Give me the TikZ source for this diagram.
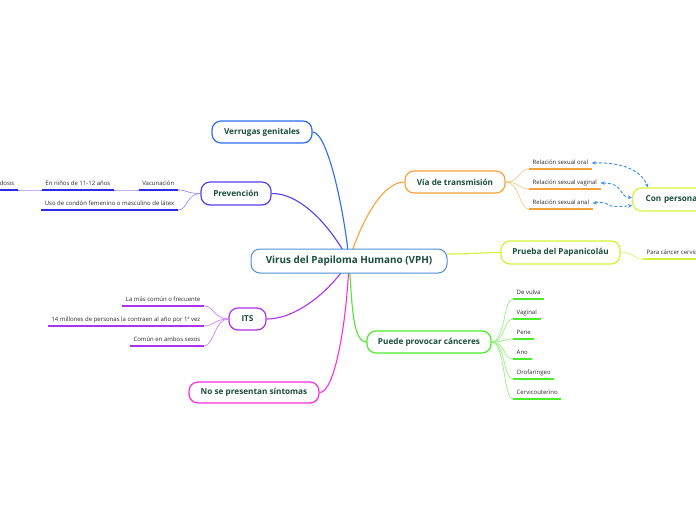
\documentclass[tikz,border=0pt]{standalone}
\usepackage{fontspec}
\setmainfont{Open Sans}
\usetikzlibrary{arrows.meta}
\definecolor{txtg}{HTML}{1B4D3E}
\definecolor{leafg}{HTML}{2B2B2B}
\definecolor{cenC}{HTML}{4D8FD1}
\definecolor{verC}{HTML}{2D6CF5}
\definecolor{prevC}{HTML}{5A3FF0}
\definecolor{prevL}{HTML}{2B2BE8}
\definecolor{viaC}{HTML}{F9A23A}
\definecolor{pruC}{HTML}{D4F23A}
\definecolor{itsC}{HTML}{B030F0}
\definecolor{pueC}{HTML}{4CED2A}
\definecolor{noseC}{HTML}{FF2EE0}
\definecolor{dashblue}{HTML}{3A8EE6}
\pgfdeclarelayer{bg}
\pgfsetlayers{bg,main}
\tikzset{
 mainbox/.style={draw, line width=1.2pt, rounded corners=9pt, fill=white, text=txtg,
   font=\bfseries\fontsize{8.2}{10}\selectfont, minimum height=22pt, inner sep=0pt},
 leaftxt/.style={font=\fontsize{6}{7}\selectfont, text=leafg, inner xsep=3.5pt, inner ysep=3pt, text height=4.4pt, text depth=1.2pt},
 leafL/.style={leaftxt, anchor=south east},
 leafR/.style={leaftxt, anchor=south west},
 uline/.style={line width=1.5pt},
 branch/.style={line width=1.1pt},
 subline/.style={line width=0.7pt},
 dasharrow/.style={draw=dashblue, line width=0.9pt, dash pattern=on 3pt off 2pt,
   {Stealth[length=4pt,width=3.6pt]}-{Stealth[length=4pt,width=3.6pt]}}
}
\begin{document}
\begin{tikzpicture}[x=1pt,y=-1pt]
\useasboundingbox (0,0) rectangle (696,520);
\clip (0,0) rectangle (696,520);

% main nodes
\node[mainbox, draw=cenC, line width=1pt, minimum width=196pt, minimum height=24pt, font=\bfseries\fontsize{9.9}{11}\selectfont] (cen) at (349,261) {Virus del Papiloma Humano (VPH)};
\node[mainbox, draw=verC, minimum width=100pt] (ver) at (262,132) {Verrugas genitales};
\node[mainbox, draw=prevC, minimum width=70pt, minimum height=23pt] (prev) at (236,193.5) {Prevención};
\node[mainbox, draw=viaC, minimum width=100pt] (via) at (455,182) {Vía de transmisión};
\node[mainbox, draw=pruC, minimum width=119pt, minimum height=23pt] (pru) at (560.5,252.5) {Prueba del Papanicoláu};
\node[mainbox, draw=itsC, minimum width=37pt] (its) at (247.5,319) {ITS};
\node[mainbox, draw=pueC, minimum width=124pt] (pue) at (429,342) {Puede provocar cánceres};
\node[mainbox, draw=noseC, minimum width=130pt, minimum height=21pt] (nose) at (254,392.5) {No se presentan síntomas};
\node[mainbox, draw=pruC, anchor=west, text width=70pt, align=left, inner xsep=13pt, minimum height=23pt] (con) at (632,199.5) {Con persona};

% leaves: Prevención
\node[leafL] (vac) at (178,190) {Vacunación};
\node[leafL] (nin) at (114,190) {En niños de 11-12 años};
\node[leafL] (dos) at (18,190) {dosis};
\node[leafL] (uso) at (178,210) {Uso de condón femenino o masculino de látex};
% leaves: Vía
\node[leafR] (oral) at (529,169) {Relación sexual oral};
\node[leafR] (vag) at (529,189) {Relación sexual vaginal};
\node[leafR] (anal) at (529,209) {Relación sexual anal};
% leaf: Prueba
\node[leafR] (para) at (643,259) {Para cáncer cervicouterino};
% leaves: ITS
\node[leafL] (frec) at (204,306) {La más común o frecuente};
\node[leafL] (mill) at (204,326) {14 millones de personas la contraen al año por 1ª vez};
\node[leafL] (amb) at (204,346) {Común en ambos sexos};
% leaves: Puede
\node[leafR] (vul) at (513,299) {De vulva};
\node[leafR] (vgn) at (513,319) {Vaginal};
\node[leafR] (pen) at (513,339) {Pene};
\node[leafR] (ano) at (513,359) {Ano};
\node[leafR] (oro) at (513,379) {Orofaríngeo};
\node[leafR] (cer) at (513,399) {Cervicouterino};

% underlines
\foreach \n in {vac,nin,dos,uso} \draw[uline, draw=prevL] (\n.south west) -- (\n.south east);
\foreach \n in {oral,vag,anal} \draw[uline, draw=viaC] (\n.south west) -- (\n.south east);
\draw[uline, draw=pruC] (para.south west) -- (para.south east);
\foreach \n in {frec,mill,amb} \draw[uline, draw=itsC] (\n.south west) -- (\n.south east);
\foreach \n in {vul,vgn,pen,ano,oro,cer} \draw[uline, draw=pueC] (\n.south west) -- (\n.south east);

\begin{pgfonlayer}{bg}
\fill[white] (0,0) rectangle (696,520);
% main branches
\draw[branch, draw=verC] (ver.east) .. controls (328,132) and (345,215) .. (cen.center);
\draw[branch, draw=prevC] (prev.east) .. controls (300,193) and (330,225) .. (cen.center);
\draw[branch, draw=viaC] (via.west) .. controls (380,182) and (358,230) .. (cen.center);
\draw[branch, draw=pruC] ([yshift=7pt]cen.east) .. controls (475,254) and (480,252.5) .. (pru.west);
\draw[branch, draw=itsC] (its.east) .. controls (300,319) and (335,285) .. (cen.center);
\draw[branch, draw=pueC] (pue.west) .. controls (352,342) and (352,300) .. (cen.center);
\draw[branch, draw=noseC] (nose.east) .. controls (335,393) and (347,320) .. (cen.center);
% sub connectors
\draw[subline, draw=prevC!60] (prev.west) .. controls +(-14,0) and +(10,0) .. (vac.south east);
\draw[subline, draw=prevC!60] (prev.west) .. controls +(-14,0) and +(10,0) .. (uso.south east);
\draw[subline, draw=prevC!60] (vac.south west) .. controls +(-10,0) and +(10,0) .. (nin.south east);
\draw[subline, draw=prevC!60] (nin.south west) .. controls +(-10,0) and +(10,0) .. (dos.south east);
\foreach \n in {oral,vag,anal} \draw[subline, draw=viaC!60] (via.east) .. controls +(14,0) and +(-10,0) .. (\n.south west);
\draw[subline, draw=pruC!80] (pru.east) .. controls +(14,0) and +(-10,0) .. (para.south west);
\foreach \n in {frec,mill,amb} \draw[subline, draw=itsC!60] (its.west) .. controls +(-14,0) and +(10,0) .. (\n.south east);
\foreach \n in {vul,vgn,pen,ano,oro,cer} \draw[subline, draw=pueC!60] (pue.east) .. controls +(14,0) and +(-10,0) .. (\n.south west);
\end{pgfonlayer}

% dashed relations
\draw[dasharrow] (oral.east) .. controls (625,162) and (642,172) .. ([xshift=16pt]con.north west);
\draw[dasharrow] (vag.east) .. controls (625,183) and (618,197) .. ([yshift=2pt]con.west);
\draw[dasharrow] (anal.east) .. controls (616,201) and (598,209) .. ([yshift=-6pt]con.west);
\end{tikzpicture}
\end{document}
